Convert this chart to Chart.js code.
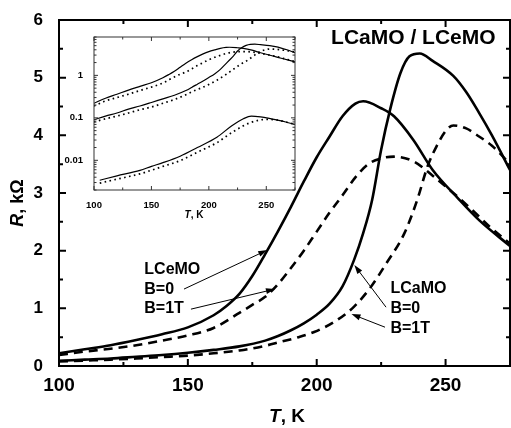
<!DOCTYPE html>
<html>
<head>
<meta charset="utf-8">
<script src="https://cdn.jsdelivr.net/npm/chart.js@4.4.1/dist/chart.umd.min.js"></script>
<style>
  body { margin: 0; background: #fff; }
  #wrap { position: relative; width: 511px; height: 428px; overflow: hidden; }
  #main { position: absolute; left: 0; top: 0; }
  #inset { position: absolute; left: 60px; top: 28px; }
</style>
</head>
<body>
<div id="wrap">
  <canvas id="main" width="511" height="428"></canvas>
  <canvas id="inset" width="245" height="200"></canvas>
</div>
<script>
// LCeMO film, B=0 and B=1T (T in K, R in kOhm)
const ceT0 = [100, 110, 120, 130, 140, 150, 160, 165, 170, 175, 180, 185, 190, 195, 200, 205, 210, 215, 218, 225, 230, 237.5, 245, 255, 263, 275];
const ceR0 = [0.22, 0.29, 0.36, 0.45, 0.55, 0.67, 0.88, 1.04, 1.25, 1.56, 1.94, 2.34, 2.76, 3.2, 3.62, 3.98, 4.33, 4.55, 4.59, 4.47, 4.33, 3.92, 3.4, 2.9, 2.53, 2.08];
const ceT1 = [100, 110, 120, 130, 140, 150, 160, 170, 175, 180, 185, 190, 195, 200, 205, 210, 215, 220, 225, 230, 237.5, 245, 253, 260, 267, 275];
const ceR1 = [0.19, 0.25, 0.3, 0.36, 0.44, 0.53, 0.66, 0.92, 1.06, 1.2, 1.42, 1.7, 2.0, 2.33, 2.66, 2.96, 3.27, 3.5, 3.6, 3.63, 3.55, 3.3, 3.0, 2.72, 2.42, 2.12];

// LCaMO film, B=0 and B=1T
const caT0 = [100, 110, 120, 130, 140, 150, 160, 170, 180, 185, 190, 195, 200, 205, 210, 214.5, 218, 221.5, 225, 228.5, 232.5, 236, 240, 245, 253, 258, 263, 268, 275];
const caR0 = [0.09, 0.11, 0.13, 0.16, 0.19, 0.23, 0.28, 0.34, 0.44, 0.52, 0.62, 0.74, 0.89, 1.08, 1.38, 1.84, 2.3, 2.88, 3.75, 4.45, 5.08, 5.37, 5.42, 5.29, 5.03, 4.75, 4.39, 4.0, 3.4];
const caT1 = [100, 110, 120, 130, 140, 150, 160, 170, 180, 186, 193, 199, 207, 214.5, 221, 227, 234, 239, 243, 246.5, 250.5, 253, 258, 263, 268, 271, 275];
const caR1 = [0.08, 0.095, 0.11, 0.13, 0.155, 0.18, 0.22, 0.27, 0.35, 0.42, 0.5, 0.59, 0.77, 1.03, 1.37, 1.78, 2.3, 2.88, 3.46, 3.81, 4.1, 4.17, 4.12, 3.98, 3.82, 3.69, 3.5];

// third sample, only in the log inset
const loT0 = [105, 120, 140, 150, 160, 175, 190, 207, 220, 230, 237, 245, 260, 275];
const loR0 = [0.0034, 0.0043, 0.0058, 0.0072, 0.0088, 0.0125, 0.02, 0.035, 0.065, 0.095, 0.11, 0.105, 0.088, 0.07];
const loT1 = [105, 120, 140, 160, 175, 190, 207, 220, 235, 250, 260, 275];
const loR1 = [0.0029, 0.0036, 0.0048, 0.0072, 0.0098, 0.0155, 0.026, 0.045, 0.075, 0.092, 0.088, 0.07];

// axis ticks
const xTicks = [100, 150, 200, 250];
const xMinor = [125, 175, 225, 275];
const yTicks = [0, 1, 2, 3, 4, 5, 6];
const yMinor = [0.5, 1.5, 2.5, 3.5, 4.5, 5.5];
const insetYTicks = [0.01, 0.1, 1];
const insetYMinor = [];
[0.001, 0.01, 0.1, 1].forEach(d => { for (let k = 2; k <= 9; k++) insetYMinor.push(d * k); });

const pts = (t, r) => t.map((v, i) => ({ x: v, y: r[i] }));

// box round the plot with ticks pointing inwards on all four sides
const frame = {
  id: 'frame',
  afterDatasetsDraw(chart, args, o) {
    const { ctx, chartArea: a, scales: { x, y } } = chart;
    ctx.save();
    ctx.strokeStyle = o.color;
    ctx.lineWidth = o.width;
    ctx.strokeRect(a.left, a.top, a.right - a.left, a.bottom - a.top);
    const tick = (ax, vals, len) => vals.forEach(v => {
      if (v < ax.min || v > ax.max) return;
      const p = ax.getPixelForValue(v);
      ctx.beginPath();
      if (ax.isHorizontal()) {
        ctx.moveTo(p, a.bottom); ctx.lineTo(p, a.bottom - len);
        ctx.moveTo(p, a.top); ctx.lineTo(p, a.top + len);
      } else {
        ctx.moveTo(a.left, p); ctx.lineTo(a.left + len, p);
        ctx.moveTo(a.right, p); ctx.lineTo(a.right - len, p);
      }
      ctx.stroke();
    });
    tick(x, o.xMajor, o.major); tick(x, o.xMinor, o.minor);
    tick(y, o.yMajor, o.major); tick(y, o.yMinor, o.minor);
    ctx.restore();
  }
};

// axis titles with an italic symbol
function mixedText(ctx, parts, size, cx, cy, rot) {
  ctx.save();
  ctx.translate(cx, cy);
  ctx.rotate(rot || 0);
  ctx.fillStyle = '#000';
  ctx.textBaseline = 'middle';
  const fonts = parts.map(p => (p.it ? 'italic ' : '') + 'bold ' + size + 'px "Liberation Sans", Arial, sans-serif');
  let w = 0;
  parts.forEach((p, i) => { ctx.font = fonts[i]; w += ctx.measureText(p.t).width; });
  let xx = -w / 2;
  parts.forEach((p, i) => { ctx.font = fonts[i]; ctx.fillText(p.t, xx, 0); xx += ctx.measureText(p.t).width; });
  ctx.restore();
}

const labels = [
  { t: 'LCaMO / LCeMO', x: 237.5, y: 5.69, size: 21, align: 'center' },
  { t: 'LCeMO', x: 133.1, y: 1.595, size: 16 },
  { t: 'B=0', x: 133.1, y: 1.247, size: 16 },
  { t: 'B=1T', x: 133.1, y: 0.917, size: 16 },
  { t: 'LCaMO', x: 228.6, y: 1.27, size: 16 },
  { t: 'B=0', x: 228.6, y: 0.92, size: 16 },
  { t: 'B=1T', x: 228.6, y: 0.58, size: 16 }
];
const arrows = [
  [148.5, 1.334, 180.8, 2.01],
  [151.2, 0.986, 183.8, 1.334],
  [226.9, 1.02, 214.6, 1.75],
  [226.5, 0.673, 213.5, 0.9]
];

const notes = {
  id: 'notes',
  afterDraw(chart) {
    const { ctx, scales: { x, y } } = chart;
    ctx.save();
    ctx.fillStyle = '#000';
    ctx.strokeStyle = '#000';
    labels.forEach(l => {
      ctx.font = 'bold ' + l.size + 'px "Liberation Sans", Arial, sans-serif';
      ctx.textAlign = l.align || 'left';
      ctx.textBaseline = l.align ? 'middle' : 'alphabetic';
      ctx.fillText(l.t, x.getPixelForValue(l.x), y.getPixelForValue(l.y));
    });
    ctx.lineWidth = 1;
    arrows.forEach(([t1, r1, t2, r2]) => {
      const x1 = x.getPixelForValue(t1), y1 = y.getPixelForValue(r1);
      const x2 = x.getPixelForValue(t2), y2 = y.getPixelForValue(r2);
      const ang = Math.atan2(y2 - y1, x2 - x1);
      ctx.beginPath();
      ctx.moveTo(x1, y1);
      ctx.lineTo(x2 - 6 * Math.cos(ang), y2 - 6 * Math.sin(ang));
      ctx.stroke();
      ctx.beginPath();
      ctx.moveTo(x2, y2);
      ctx.lineTo(x2 - 9 * Math.cos(ang) + 3 * Math.sin(ang), y2 - 9 * Math.sin(ang) - 3 * Math.cos(ang));
      ctx.lineTo(x2 - 9 * Math.cos(ang) - 3 * Math.sin(ang), y2 - 9 * Math.sin(ang) + 3 * Math.cos(ang));
      ctx.closePath();
      ctx.fill();
    });
    ctx.restore();
    mixedText(ctx, [{ t: 'T', it: true }, { t: ', K' }], 19, 287, 417);
    mixedText(ctx, [{ t: 'R', it: true }, { t: ', k\u03A9' }], 18, 18, 203, -Math.PI / 2);
  }
};

const line = (data, dash, w) => ({
  data, borderColor: '#000', borderWidth: w, borderDash: dash,
  pointRadius: 0, fill: false, cubicInterpolationMode: 'monotone'
});

new Chart(document.getElementById('main'), {
  type: 'line',
  data: {
    datasets: [
      line(pts(ceT0, ceR0), [], 2.6),
      line(pts(ceT1, ceR1), [9, 6], 2.6),
      line(pts(caT0, caR0), [], 2.6),
      line(pts(caT1, caR1), [9, 6], 2.6)
    ]
  },
  options: {
    responsive: false,
    animation: false,
    layout: { padding: { top: 20, right: 1, left: 0, bottom: 0 } },
    plugins: {
      legend: { display: false },
      tooltip: { enabled: false },
      frame: { color: '#000', width: 2, major: 7, minor: 4,
        xMajor: xTicks, xMinor: xMinor, yMajor: yTicks, yMinor: yMinor }
    },
    scales: {
      x: {
        type: 'linear', min: 100, max: 275,
        grid: { display: false }, border: { display: false },
        afterBuildTicks: s => { s.ticks = xTicks.map(v => ({ value: v })); },
        afterFit: s => { s.height = 62; },
        ticks: { color: '#000', padding: 0, maxRotation: 0,
          font: { family: '"Liberation Sans", Arial, sans-serif', size: 19, weight: 'bold' } }
      },
      y: {
        min: 0, max: 6,
        grid: { display: false }, border: { display: false },
        afterBuildTicks: s => { s.ticks = yTicks.map(v => ({ value: v })); },
        afterFit: s => { s.width = 59; },
        ticks: { color: '#000', padding: 8,
          font: { family: '"Liberation Sans", Arial, sans-serif', size: 17, weight: 'bold' } }
      }
    }
  },
  plugins: [frame, notes]
});

const insetTitle = {
  id: 'insetTitle',
  afterDraw(chart) {
    mixedText(chart.ctx, [{ t: 'T', it: true }, { t: ', K' }], 10, 134, 187);
  }
};

new Chart(document.getElementById('inset'), {
  type: 'line',
  data: {
    datasets: [
      line(pts(ceT0, ceR0), [], 1.2),
      line(pts(ceT1, ceR1), [1.6, 3.4], 1.7),
      line(pts(caT0, caR0), [], 1.2),
      line(pts(caT1, caR1), [1.6, 3.4], 1.7),
      line(pts(loT0, loR0), [], 1.2),
      line(pts(loT1, loR1), [1.6, 3.4], 1.7)
    ]
  },
  options: {
    responsive: false,
    animation: false,
    layout: { padding: { top: 9, right: 10, left: 0, bottom: 0 } },
    plugins: {
      legend: { display: false },
      tooltip: { enabled: false },
      frame: { color: '#333', width: 1, major: 4, minor: 2.5,
        xMajor: xTicks, xMinor: xMinor, yMajor: insetYTicks, yMinor: insetYMinor }
    },
    scales: {
      x: {
        type: 'linear', min: 100, max: 275,
        grid: { display: false }, border: { display: false },
        afterBuildTicks: s => { s.ticks = xTicks.map(v => ({ value: v })); },
        afterFit: s => { s.height = 38; },
        ticks: { color: '#000', padding: 2, maxRotation: 0,
          font: { family: '"Liberation Sans", Arial, sans-serif', size: 9.5, weight: 'bold' } }
      },
      y: {
        type: 'logarithmic', min: 0.002, max: 8,
        grid: { display: false }, border: { display: false },
        afterBuildTicks: s => { s.ticks = insetYTicks.map(v => ({ value: v })); },
        afterFit: s => { s.width = 34; },
        ticks: { color: '#000', padding: 3, callback: v => String(v),
          font: { family: '"Liberation Sans", Arial, sans-serif', size: 9.5, weight: 'bold' } }
      }
    }
  },
  plugins: [frame, insetTitle]
});
</script>
</body>
</html>
